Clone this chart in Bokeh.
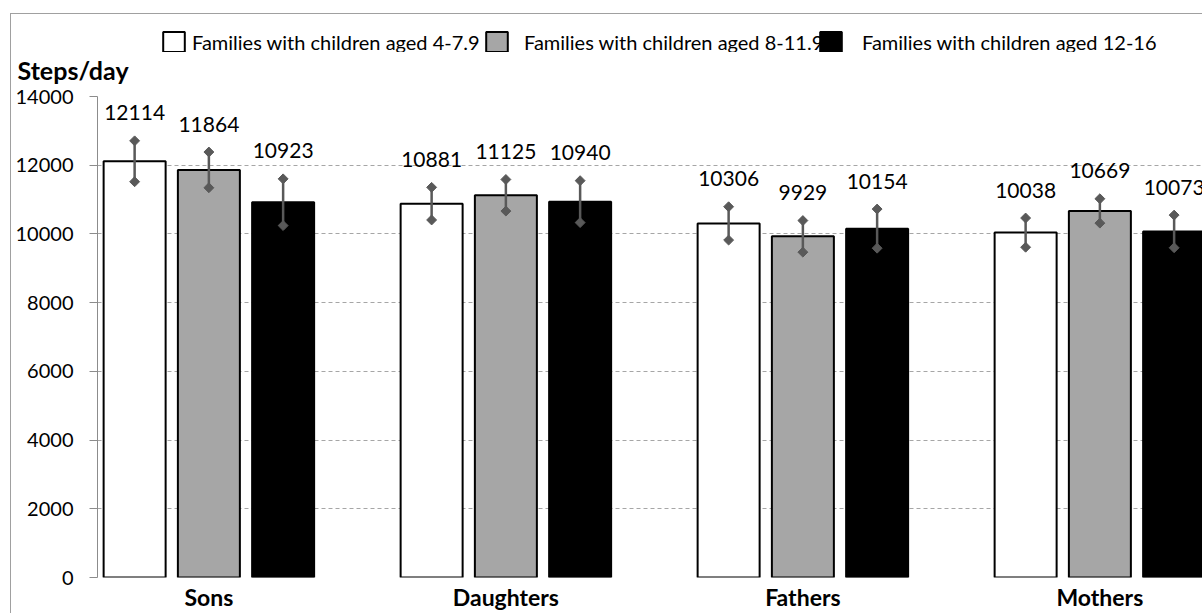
import math
from bokeh.plotting import figure
from bokeh.layouts import column
from bokeh.models import (Range1d, FixedTicker, Legend, LegendItem,
                          ColumnDataSource)
from bokeh.core.properties import value
from bokeh.embed import file_html
from bokeh.resources import INLINE

# ---------------- data ----------------
categories = ["Sons", "Daughters", "Fathers", "Mothers"]
series_names = ["Families with children aged 4-7.9",
                "Families with children aged 8-11.9",
                "Families with children aged 12-16"]
steps_4_7 = [12114, 10881, 10306, 10038]
steps_8_11 = [11864, 11125, 9929, 10669]
steps_12_16 = [10923, 10940, 10154, 10073]
err_4_7 = [595, 475, 485, 425]
err_8_11 = [520, 460, 460, 355]
err_12_16 = [680, 610, 570, 475]
y_ticks = [0, 2000, 4000, 6000, 8000, 10000, 12000, 14000]
y_title = "Steps/day"

# ---------------- style / layout ----------------
FONT = "Lato"
W = 1191
H_TOP = 70                     # header strip: legend + y title
H, TOP, LEFT, FRAME_H = 529, 12, 86, 481
SLOT_PX = 74.25
SLOTS = 4                      # 3 bars + 1 empty slot per group
BAR_W = 62 / SLOT_PX
Y_MAX = 14000
PX_PER_UNIT = FRAME_H / Y_MAX
LABEL_GAP = 28 / PX_PER_UNIT
ERR_COLOR = "#595959"
GRID_COLOR = "#a6a6a6"
AXIS_COLOR = "#8c8c8c"
FILLS = ["white", "#a6a6a6", "black"]

x_start = -1.5
x_end = x_start + (W - LEFT) / SLOT_PX

# ---------------- main chart ----------------
p = figure(width=W, height=H, x_range=Range1d(x_start, x_end),
           y_range=Range1d(0, Y_MAX), output_backend="svg",
           toolbar_location=None, min_border=0,
           min_border_left=LEFT, min_border_top=TOP, min_border_right=0,
           min_border_bottom=H - TOP - FRAME_H)
p.outline_line_color = None
p.background_fill_color = "white"
p.border_fill_color = "white"

series_vals = [steps_4_7, steps_8_11, steps_12_16]
series_errs = [err_4_7, err_8_11, err_12_16]
for j, (vals, errs, fill) in enumerate(zip(series_vals, series_errs, FILLS)):
    xs = [SLOTS * i + (j - 1) for i in range(len(categories))]
    src = ColumnDataSource(dict(
        x=xs, top=vals,
        lo=[v - e for v, e in zip(vals, errs)],
        hi=[v + e for v, e in zip(vals, errs)],
        ly=[v + e + LABEL_GAP for v, e in zip(vals, errs)],
        label=[str(v) for v in vals]))
    p.vbar(x="x", top="top", bottom=0, width=BAR_W, source=src,
           fill_color=fill, line_color="black", line_width=2)
    p.segment(x0="x", y0="lo", x1="x", y1="hi", source=src,
              line_color=ERR_COLOR, line_width=2.5)
    for col in ("lo", "hi"):
        p.scatter(x="x", y=col, source=src, marker="square", size=7,
                  angle=math.pi / 4, fill_color=ERR_COLOR, line_color=ERR_COLOR)
    p.text(x="x", y="ly", text="label", source=src, text_align="center",
           text_baseline="middle", text_font=value(FONT),
           text_font_size="21px", text_color="black")

p.yaxis.ticker = FixedTicker(ticks=y_ticks)
p.yaxis.axis_line_color = AXIS_COLOR
p.yaxis.major_tick_line_color = AXIS_COLOR
p.yaxis.major_tick_out = 8
p.yaxis.major_tick_in = 0
p.yaxis.minor_tick_line_color = None
p.yaxis.major_label_standoff = 16
p.yaxis.major_label_text_font = FONT
p.yaxis.major_label_text_font_size = "20px"
p.yaxis.major_label_text_color = "black"

p.xaxis.ticker = FixedTicker(ticks=[SLOTS * i for i in range(len(categories))])
p.xaxis.major_label_overrides = {SLOTS * i: c for i, c in enumerate(categories)}
p.xaxis.axis_line_color = None
p.xaxis.major_tick_line_color = None
p.xaxis.minor_tick_line_color = None
p.xaxis.major_tick_out = 0
p.xaxis.major_tick_in = 0
p.xaxis.major_label_standoff = 5
p.xaxis.major_label_text_font = FONT
p.xaxis.major_label_text_font_style = "bold"
p.xaxis.major_label_text_font_size = "23px"
p.xaxis.major_label_text_color = "black"

p.xgrid.visible = False
p.ygrid.grid_line_color = GRID_COLOR
p.ygrid.grid_line_dash = "4 3"
p.ygrid.grid_line_width = 1

# ---------------- header strip: legend + y title ----------------
t = figure(width=W, height=H_TOP, x_range=Range1d(0, 1), y_range=Range1d(0, 1),
           output_backend="svg", toolbar_location=None, min_border=0,
           x_axis_type=None, y_axis_type=None, title_location="below")
t.grid.visible = False
t.outline_line_color = None
t.background_fill_color = "white"
t.border_fill_color = "white"
t.title.text = y_title
t.title.align = "left"
t.title.offset = -80
t.title.standoff = 0
t.title.text_font = FONT
t.title.text_font_style = "bold"
t.title.text_font_size = "25px"
t.title.text_color = "black"

# legend swatches: renderers carrying only the style (no drawable bar)
nan = float("nan")
swatches = [t.vbar(x=[nan], top=[nan], bottom=[nan], width=1, fill_color=f,
                   line_color="black", line_width=2) for f in FILLS]
legend_x = [63, 386, 720]
legend_standoff = [5, 14, 18]
for name, r, lx, so in zip(series_names, swatches, legend_x, legend_standoff):
    t.add_layout(Legend(items=[LegendItem(label=name, renderers=[r])],
                        location=(lx, -2), orientation="horizontal",
                        label_standoff=so, glyph_width=27, glyph_height=25,
                        label_height=25, label_text_font=FONT,
                        label_text_font_size="20px", label_text_color="black",
                        padding=0, margin=0, spacing=0,
                        border_line_alpha=0, background_fill_alpha=0))

layout = column(t, p, spacing=0)
layout.styles = {"border-top": "1px solid #a0a0a0", "border-left": "1px solid #a0a0a0"}
layout.margin = (13, 0, 0, 10)

open("out.html", "w").write(file_html(layout, INLINE))
